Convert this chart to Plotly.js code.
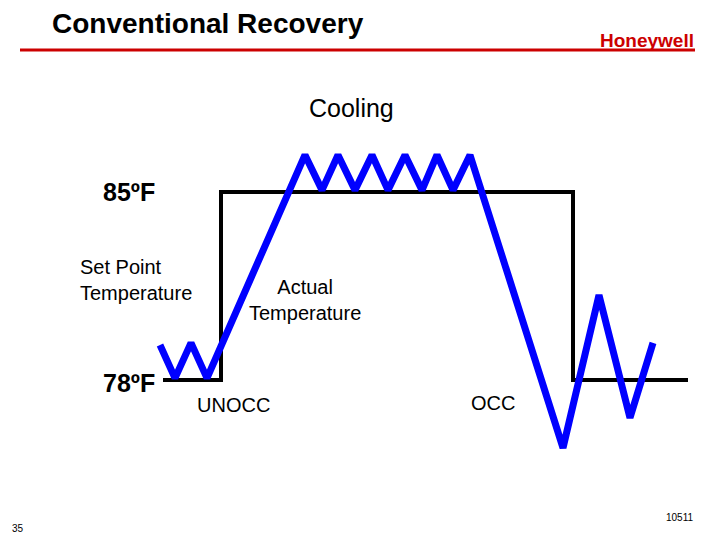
<!DOCTYPE html>
<html>
<head>
<meta charset="utf-8">
<script src="https://cdn.plot.ly/plotly-3.0.1.min.js"></script>
<style>html,body{margin:0;padding:0;background:#fff;}#chart{width:720px;height:540px;}</style>
</head>
<body>
<div id="chart"></div>
<script>
// Set point schedule (time units, °F)
const setpointTime = [163, 221, 221, 573, 573, 688];
const setpointTemp = [78, 78, 85, 85, 78, 78];

// Actual temperature (time units, °F)
const actualTime = [160, 175, 191, 207, 305, 322, 338, 355, 372, 388, 405, 422, 437, 453, 470, 563, 599, 630, 653];
const actualTemp = [79.3, 78.07, 79.38, 78.07, 86.38, 85.07, 86.38, 85.07, 86.38, 85.07, 86.38, 85.07, 86.38, 85.07, 86.38, 75.47, 81.16, 76.59, 79.38];

const labels = {
  title: "Conventional Recovery",
  subtitle: "Cooling",
  hi: "85ºF",
  lo: "78ºF",
  setpoint: "Set Point<br>Temperature",
  actual: "Actual<br>Temperature",
  unocc: "UNOCC",
  occ: "OCC",
  page: "35",
  code: "10511",
  logo: "Honeywell"
};

const W = 720, H = 540;
const px = x => x / W;
const py = y => 1 - y / H;
const F = "Liberation Sans, Arial, sans-serif";

const traces = [
  {x: setpointTime, y: setpointTemp, mode: "lines", line: {color: "#000000", width: 4, shape: "linear"}, hoverinfo: "skip", showlegend: false},
  {x: actualTime, y: actualTemp, mode: "lines", line: {color: "#0000ff", width: 7, shape: "linear"}, hoverinfo: "skip", showlegend: false}
];

function ann(text, x, y, size, opts) {
  return Object.assign({
    text: text, xref: "paper", yref: "paper", x: px(x), y: py(y),
    showarrow: false, font: {family: F, size: size, color: "#000"},
    xanchor: "left", yanchor: "middle", align: "left"
  }, opts || {});
}

const layout = {
  width: W, height: H,
  margin: {l: 0, r: 0, t: 0, b: 0},
  paper_bgcolor: "#fff", plot_bgcolor: "#fff",
  xaxis: {range: [0, 720], visible: false, fixedrange: true},
  yaxis: {range: [72.04, 92.15], visible: false, fixedrange: true},
  showlegend: false,
  shapes: [
    {type: "line", xref: "paper", yref: "paper", x0: px(20), x1: px(695), y0: py(50), y1: py(50), line: {color: "#cc0000", width: 3}}
  ],
  annotations: [
    ann("<b>" + labels.title + "</b>", 50, 24, 28),
    ann("<b>" + labels.logo + "</b>", 696, 40, 19, {xanchor: "right", font: {family: "Liberation Sans Narrow, Liberation Sans, Arial", size: 19, color: "#cc0000"}}),
    ann(labels.subtitle, 351, 108, 25, {xanchor: "center"}),
    ann("<b>" + labels.hi + "</b>", 101, 192, 25),
    ann("<b>" + labels.lo + "</b>", 101, 383, 25),
    ann(labels.setpoint, 78, 280, 20),
    ann(labels.actual, 305, 300, 20, {xanchor: "center", align: "center"}),
    ann(labels.unocc, 195, 405, 20),
    ann(labels.occ, 469, 403, 20),
    ann(labels.page, 10, 528, 10),
    ann(labels.code, 664, 517, 10)
  ]
};

Plotly.newPlot("chart", traces, layout, {staticPlot: true, displayModeBar: false});
</script>
</body>
</html>
